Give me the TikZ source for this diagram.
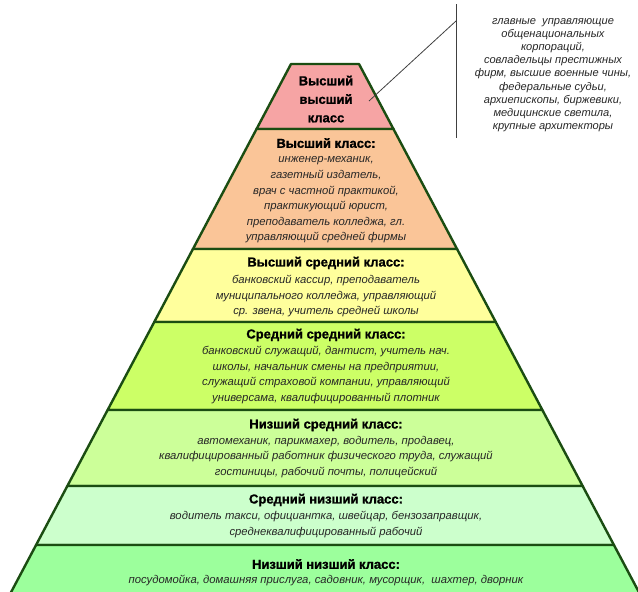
\documentclass[tikz,border=0pt]{standalone}
\usepackage{fontspec}
\setmainfont{Liberation Sans}
\newfontfamily\heavyfont[FakeBold=1.2]{Liberation Sans Bold}
\usepackage{xcolor}
\usetikzlibrary{positioning, calc}

\definecolor{edge}{HTML}{1B4D12}
\definecolor{tierA}{HTML}{F6A4A4}
\definecolor{tierB}{HTML}{FAC598}
\definecolor{tierC}{HTML}{FFFF9C}
\definecolor{tierD}{HTML}{CCFF66}
\definecolor{tierE}{HTML}{CCFF99}
\definecolor{tierF}{HTML}{CCFFCC}
\definecolor{tierG}{HTML}{9CFF9C}

\begin{document}
\begin{tikzpicture}[
  x=1pt, y=-1pt,
  tier/.style={draw=edge, line width=2.4pt, line join=round},
  head/.style={font=\fontsize{13}{18.5}\selectfont\heavyfont, align=center, inner sep=0pt},
  body/.style={font=\fontsize{11.3}{15.6}\selectfont\itshape, text=black!85, align=center, inner sep=0pt},
  note/.style={font=\fontsize{11.1}{13.2}\selectfont\itshape, text=black!85, align=center, inner sep=0pt},
  pinline/.style={draw=black!75, line width=0.8pt},
]

\useasboundingbox (0,0) rectangle (638,592);
\clip (0,0) rectangle (638,592);

% ================= ступени пирамиды =================
\foreach \yt/\yb/\col in {64/129/tierA, 129/249/tierB, 249/322/tierC, 322/410/tierD, 410/486/tierE, 486/545/tierF, 545/605/tierG}{
  \filldraw[tier, fill=\col]
    ({291-0.53*(\yt-64)},\yt) -- ({359+0.53*(\yt-64)},\yt) --
    ({359+0.53*(\yb-64)},\yb) -- ({291-0.53*(\yb-64)},\yb) -- cycle;
}

% ================= подписи ступеней =================
\node[head] (top) at (326,99) {Высший\\высший\\класс};

\node[head] (upper_h) at (326,143) {Высший класс:};
\node[body] (upper_b) at (326,200) {инженер-механик,\\газетный издатель,\\врач с частной практикой,\\практикующий юрист,\\преподаватель колледжа, гл.\\управляющий средней фирмы};

\node[head] (uppermid_h) at (326,263) {Высший средний класс:};
\node[body] (uppermid_b) at (326,296) {банковский кассир, преподаватель\\муниципального колледжа, управляющий\\ср. звена, учитель средней школы};

\node[head] (midmid_h) at (326,335) {Средний средний класс:};
\node[body] (midmid_b) at (326,375) {банковский служащий, дантист, учитель нач.\\школы, начальник смены на предприятии,\\служащий страховой компании, управляющий\\универсама, квалифицированный плотник};

\node[head] (lowmid_h) at (326,425) {Низший средний класс:};
\node[body] (lowmid_b) at (326,457) {автомеханик, парикмахер, водитель, продавец,\\квалифицированный работник физического труда, служащий\\гостиницы, рабочий почты, полицейский};

\node[head] (midlow_h) at (326,500) {Средний низший класс:};
\node[body] (midlow_b) at (326,524.5) {водитель такси, официантка, швейцар, бензозаправщик,\\среднеквалифицированный рабочий};

\node[head] (lowlow_h) at (326,564) {Низший низший класс:};
\node[body] (lowlow_b) at (326,580) {посудомойка, домашняя прислуга, садовник, мусорщик,\ \ шахтер, дворник};

% ================= выноска =================
\coordinate (pin) at (369,101);
\coordinate (knee) at (456,21);
\coordinate (bar_top) at (456,4);
\coordinate (bar_bot) at (456,138);
\draw[pinline] (pin) -- (knee);
\draw[pinline] (bar_top) -- (bar_bot);
\node[note] (elite) at (553,75) {главные\ \ управляющие\\общенациональных\\корпораций,\\совладельцы престижных\\фирм, высшие военные чины,\\федеральные судьи,\\архиепископы, биржевики,\\медицинские светила,\\крупные архитекторы};

\end{tikzpicture}
\end{document}
